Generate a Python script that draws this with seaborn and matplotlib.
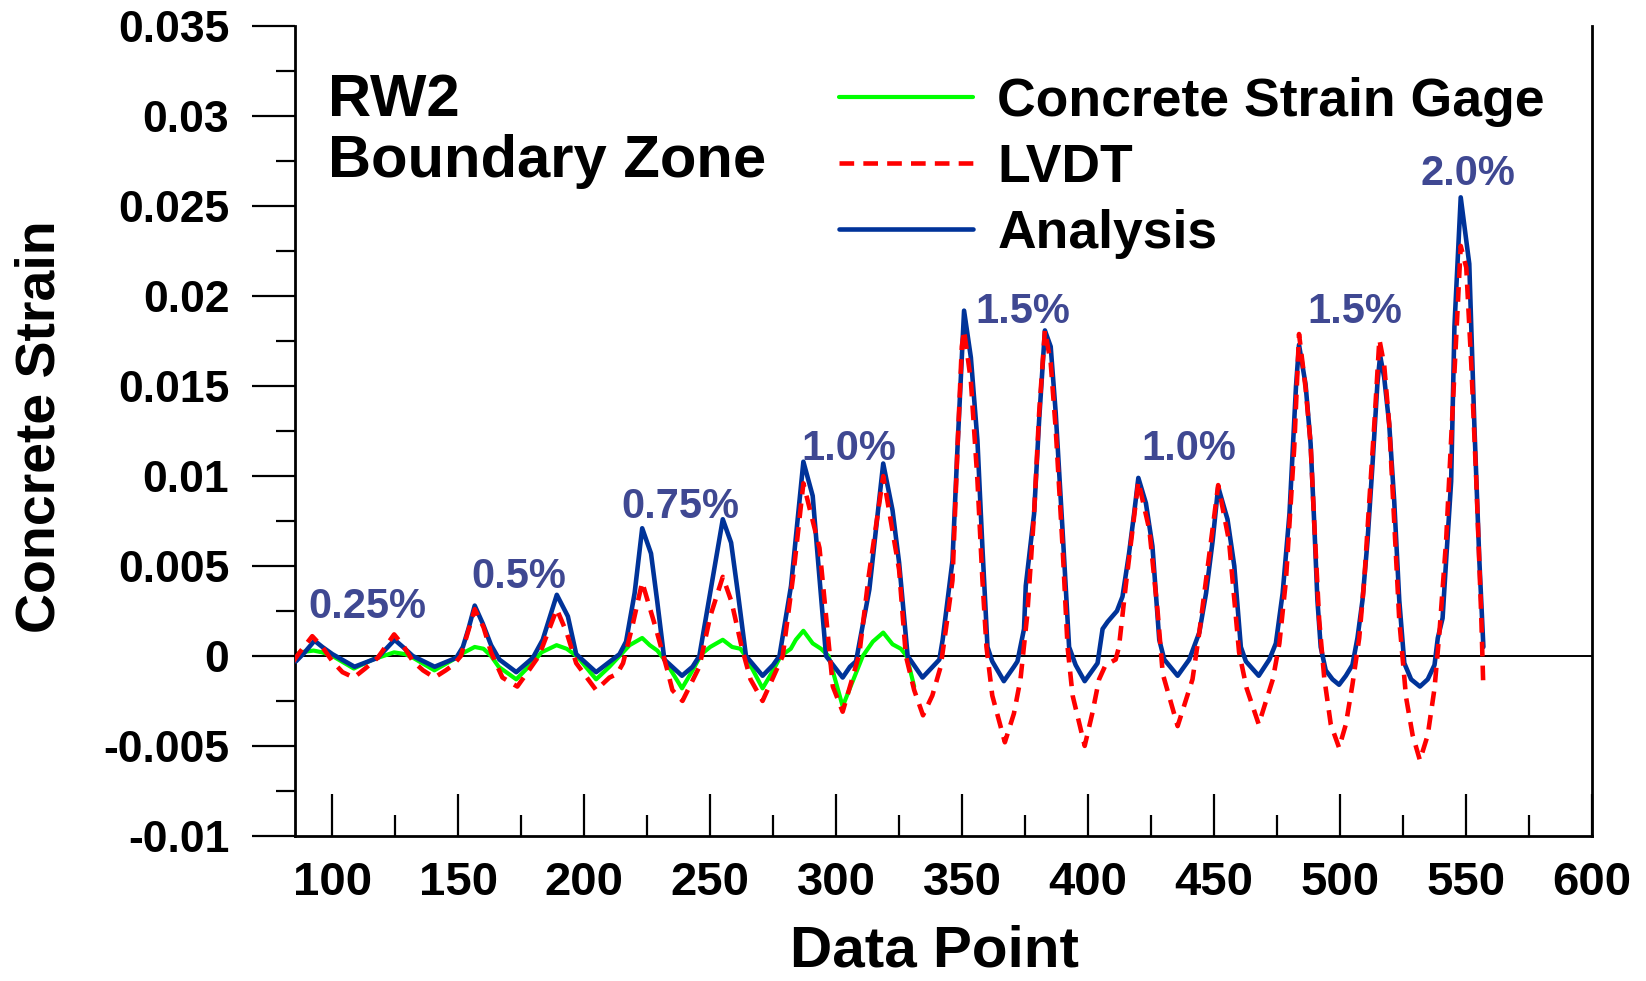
import seaborn as sns
import matplotlib.pyplot as plt
from matplotlib.ticker import MultipleLocator, FuncFormatter

# data (data point, strain)
gage_x = [85, 87, 92.5, 96, 100, 108.5, 116, 124.5, 129, 132, 140.5, 148, 151, 156.5, 160, 163, 166,
          173, 180, 183, 189, 193, 197, 204.7, 210, 214, 218, 223, 226, 229, 231.8, 238.8, 243, 246.5,
          250, 255, 258.7, 262, 264, 270.8, 275, 278, 282, 284, 287, 290.7, 294, 297, 302.6, 306.6,
          310.6, 314.6, 318.7, 322.4, 325.7, 328, 331]
gage_y = [0.0, 0.0002, 0.0003, 0.0002, 0.0, -0.0007, -0.0002, 0.0002, 0.0001, -0.0001, -0.0008, -0.0002,
          0.0001, 0.0005, 0.0004, 0.0, -0.0006, -0.0013, -0.0003, 0.0002, 0.0006, 0.0004, 0.0, -0.0013,
          -0.0006, 0.0, 0.0006, 0.001, 0.0006, 0.0003, -0.0002, -0.0018, -0.0008, 0.0001, 0.0005, 0.0009,
          0.0005, 0.0004, 0.0, -0.0018, -0.0008, 0.0, 0.0004, 0.0009, 0.0014, 0.0007, 0.0004, 0.0, -0.0028,
          -0.0014, 0.0, 0.0008, 0.0013, 0.00065, 0.0004, 0.0, -0.0017]

lvdt_x = [84.5, 87, 92, 96, 100, 104, 108.5, 113, 118, 124.5, 128, 132, 136, 140.5, 145, 148, 151, 156.5,
          160, 163, 167.5, 173.4, 178, 182, 189.1, 193, 196.8, 204.7, 210, 213, 215.4, 219, 223, 228.5,
          233, 235, 239, 245.7, 250, 255, 258.5, 262.5, 266, 270.8, 278.8, 283, 287, 293.4, 298.7, 302.6,
          309.2, 313, 318.7, 325, 327.7, 331, 334.5, 338.2, 341.5, 343.5, 346.2, 348.2, 349.9, 350.8,
          353.5, 356.1, 358.1, 359.7, 362, 367, 370.6, 373.2, 375.9, 378.6, 380.6, 382.9, 385.2, 387.2,
          389.9, 391.9, 393.9, 398.7, 401.7, 404.4, 407, 411, 412.3, 415, 420, 424.4, 427.7, 429.7, 435.6,
          441.5, 444.2, 451.7, 456, 460, 463, 467.8, 473.4, 476, 478.6, 481.9, 483.8, 486.4, 488.4, 489.8,
          491.8, 493.8, 496.4, 499.7, 502.4, 505, 507.7, 509.7, 511.7, 513.7, 515.7, 517.6, 519.6, 521.6,
          523.6, 526.3, 528.9, 531.8, 534.9, 537.6, 539.6, 542.2, 544.9, 548, 550.2, 552.2, 554.2, 556.2,
          556.9]
lvdt_y = [-0.0003, 0.0002, 0.0011, 0.0005, -0.0003, -0.0009, -0.0012, -0.0007, -0.0001, 0.0012, 0.0006,
          -0.0003, -0.0008, -0.0012, -0.0008, -0.0005, 0.0, 0.0026, 0.0016, 0.0002, -0.0012, -0.0017,
          -0.0008, 0.0, 0.0026, 0.0013, -0.0004, -0.0019, -0.0012, -0.0010, -0.0004, 0.0016, 0.0041,
          0.0015, -0.0008, -0.0019, -0.0025, -0.0006, 0.0022, 0.0044, 0.0030, 0.0005, -0.0013, -0.0025,
          0.0, 0.0045, 0.0096, 0.0060, -0.0017, -0.0031, 0.0001, 0.0045, 0.0100, 0.0048, 0.0, -0.0019,
          -0.0033, -0.0022, -0.0006, 0.0014, 0.0042, 0.0116, 0.0172, 0.0181, 0.0153, 0.0098, 0.0042,
          0.0005, -0.0022, -0.0048, -0.0032, -0.0013, 0.0023, 0.0079, 0.0135, 0.0181, 0.0163, 0.0126,
          0.0061, 0.0005, -0.0022, -0.0050, -0.0032, -0.0013, -0.0005, -0.0002, 0.0005, 0.0039, 0.0097,
          0.0070, 0.0024, -0.0010, -0.0039, -0.0013, 0.0013, 0.0095, 0.0064, 0.0002, -0.0018, -0.0038,
          -0.0013, 0.0007, 0.0042, 0.0116, 0.0179, 0.0149, 0.0118, 0.0075, 0.0020, -0.0012, -0.0038,
          -0.0051, -0.0038, -0.0016, 0.0010, 0.0042, 0.0086, 0.0129, 0.0176, 0.0162, 0.0129, 0.0075,
          0.0020, -0.0023, -0.0044, -0.0058, -0.0044, -0.0018, 0.0014, 0.0064, 0.0140, 0.0228, 0.0216,
          0.0162, 0.0097, 0.0020, -0.0014]

analysis_x = [85.5, 89, 92.9, 96, 100, 108.8, 118, 124.7, 128, 131.9, 140.6, 149.2, 151.8, 154, 156.5,
              159.7, 163, 166.3, 173, 179.6, 183.5, 189.1, 193.5, 196.8, 204.7, 214, 216.6, 220, 223,
              226.5, 229, 231.8, 238.8, 243, 245.7, 250, 255, 258.3, 261, 264.2, 270.8, 275, 277.5,
              282.1, 287, 290.7, 293, 296, 302.6, 305.5, 307.9, 313.2, 318.7, 322.4, 325, 328.4, 334.3,
              341, 342.3, 346.2, 348.2, 350.8, 353.5, 356.1, 358.1, 360.1, 362, 366.6, 370.6, 372, 374.6,
              375.3, 378.6, 380.6, 382.9, 385.2, 387.2, 389.9, 392.5, 395.1, 398.7, 403.8, 405.8, 407.8,
              411.5, 413.7, 416.3, 418.3, 420, 423, 425.6, 428.3, 430.3, 435.6, 440.2, 444.2, 446.9, 449.5,
              451.7, 455.4, 458.1, 460.7, 462.7, 467.8, 472, 474.6, 477.3, 480, 482.6, 483.8, 486.4, 488.4,
              489.8, 491.1, 492.4, 494.4, 497.1, 499.7, 502.4, 505, 507, 509, 511, 513, 514.9, 516, 517.6,
              519.6, 521.6, 523.6, 525.6, 528.3, 531.8, 534.9, 537.6, 538.9, 540.8, 542.2, 544.2, 545.5,
              548, 551.4, 553.4, 555.4, 557]
analysis_y = [-0.0003, 0.0002, 0.00085, 0.0005, 0.0001, -0.0006, -0.0001, 0.0009, 0.0005, 0.0, -0.0006,
              -0.0001, 0.0005, 0.0015, 0.0028, 0.0018, 0.0006, -0.0002, -0.0009, -0.0001, 0.0009, 0.0034,
              0.0022, 0.0001, -0.0009, 0.0001, 0.0008, 0.0035, 0.0071, 0.0057, 0.0030, -0.0002, -0.0011,
              -0.0006, 0.0, 0.0035, 0.0076, 0.0063, 0.0035, 0.0, -0.0011, -0.0005, 0.0, 0.0039, 0.0108,
              0.0089, 0.0050, 0.0, -0.0012, -0.0006, -0.0003, 0.0037, 0.0107, 0.0081, 0.0052, 0.0,
              -0.0012, -0.0002, 0.0009, 0.0053, 0.0116, 0.0192, 0.0166, 0.0120, 0.0060, 0.0005, -0.0003,
              -0.0014, -0.0006, -0.0003, 0.0015, 0.0039, 0.0079, 0.0131, 0.0181, 0.0172, 0.0135, 0.0070,
              0.0005, -0.0005, -0.0014, -0.0004, 0.0015, 0.0019, 0.0025, 0.0033, 0.0057, 0.0079, 0.0099,
              0.0085, 0.0061, 0.0009, -0.0002, -0.0011, -0.0002, 0.0013, 0.0035, 0.0064, 0.0094, 0.0076,
              0.0050, 0.0005, -0.0003, -0.0011, -0.0002, 0.0007, 0.0035, 0.0079, 0.0150, 0.0173, 0.0151,
              0.0118, 0.0075, 0.0031, 0.0005, -0.0008, -0.0013, -0.0016, -0.0011, -0.0005, 0.0010, 0.0031,
              0.0064, 0.0107, 0.0151, 0.0167, 0.0155, 0.0129, 0.0086, 0.0031, -0.0004, -0.0013, -0.0017,
              -0.0013, -0.0005, 0.0010, 0.0021, 0.0053, 0.0097, 0.0183, 0.0255, 0.0218, 0.0129, 0.0053,
              0.0005]

drift_labels = ['0.25%', '0.5%', '0.75%', '1.0%', '1.5%', '1.0%', '1.5%', '2.0%']
drift_x = [114, 174, 238, 305, 374, 440, 506, 551]
drift_y = [0.0027, 0.0044, 0.0083, 0.0115, 0.0191, 0.0115, 0.0191, 0.0268]

sns.set_style('white')
plt.rcParams['font.family'] = ['Liberation Sans', 'DejaVu Sans']
plt.rcParams['font.weight'] = 'bold'
plt.rcParams['axes.unicode_minus'] = False
plt.rcParams['text.color'] = 'black'
plt.rcParams['axes.labelcolor'] = 'black'
plt.rcParams['xtick.color'] = 'black'
plt.rcParams['ytick.color'] = 'black'

fig = plt.figure(figsize=(16.46, 9.81), dpi=100)
ax = fig.add_axes([0.179, 0.148, 0.788, 0.825])

ax.axhline(0, color='black', lw=1.4, zorder=1)
sns.lineplot(x=gage_x, y=gage_y, ax=ax, color='#00ff00', lw=3.0, sort=False, estimator=None,
             label='Concrete Strain Gage', zorder=2)
sns.lineplot(x=analysis_x, y=analysis_y, ax=ax, color='#003399', lw=3.3, sort=False, estimator=None,
             label='Analysis', zorder=3)
sns.lineplot(x=lvdt_x, y=lvdt_y, ax=ax, color='#ff0000', lw=3.3, sort=False, estimator=None,
             linestyle=(0, (3.2, 2.0)), label='LVDT', zorder=4)

for lab, xx, yy in zip(drift_labels, drift_x, drift_y):
    ax.text(xx, yy, lab, color='#3f4892', fontsize=30, fontweight='bold', ha='center', va='center')

ax.text(0.026, 0.942, 'RW2\nBoundary Zone', transform=ax.transAxes, fontsize=43,
        fontweight='bold', ha='left', va='top', linespacing=1.13)

handles, labels = ax.get_legend_handles_labels()
order = [labels.index(n) for n in ['Concrete Strain Gage', 'LVDT', 'Analysis']]
ax.legend([handles[i] for i in order], [labels[i] for i in order], loc='upper left',
          bbox_to_anchor=(0.510, 0.922), bbox_transform=fig.transFigure, frameon=False,
          fontsize=38.5, handlelength=2.5, handletextpad=0.45, labelspacing=0.30,
          borderpad=0, borderaxespad=0)

ax.set_xlim(85, 600)
ax.set_ylim(-0.01, 0.035)
ax.xaxis.set_major_locator(MultipleLocator(50))
ax.xaxis.set_minor_locator(MultipleLocator(25))
ax.yaxis.set_major_locator(MultipleLocator(0.005))
ax.yaxis.set_minor_locator(MultipleLocator(0.0025))
ax.yaxis.set_major_formatter(FuncFormatter(lambda v, p: f'{round(v, 4) + 0:g}'))

ax.tick_params(axis='both', which='both', bottom=True, left=True, top=False, right=False)
ax.tick_params(axis='y', which='major', direction='out', length=31, width=1.6, pad=16, labelsize=32)
ax.tick_params(axis='y', which='minor', direction='out', length=14, width=1.6)
ax.tick_params(axis='x', which='major', direction='in', length=30, width=1.6, pad=18, labelsize=34)
ax.tick_params(axis='x', which='minor', direction='in', length=15, width=1.6)
for lab in ax.get_xticklabels() + ax.get_yticklabels():
    lab.set_fontweight('bold')

ax.spines['top'].set_visible(False)
for s in ['left', 'right', 'bottom']:
    ax.spines[s].set_linewidth(2)
    ax.spines[s].set_color('black')

ax.set_xlabel('Data Point', fontsize=42, fontweight='bold')
ax.xaxis.set_label_coords(0.493, -0.11)
ax.set_ylabel('Concrete Strain', fontsize=40, fontweight='bold')
ax.yaxis.set_label_coords(-0.176, 0.505)

fig.savefig('out.png', dpi=100)
